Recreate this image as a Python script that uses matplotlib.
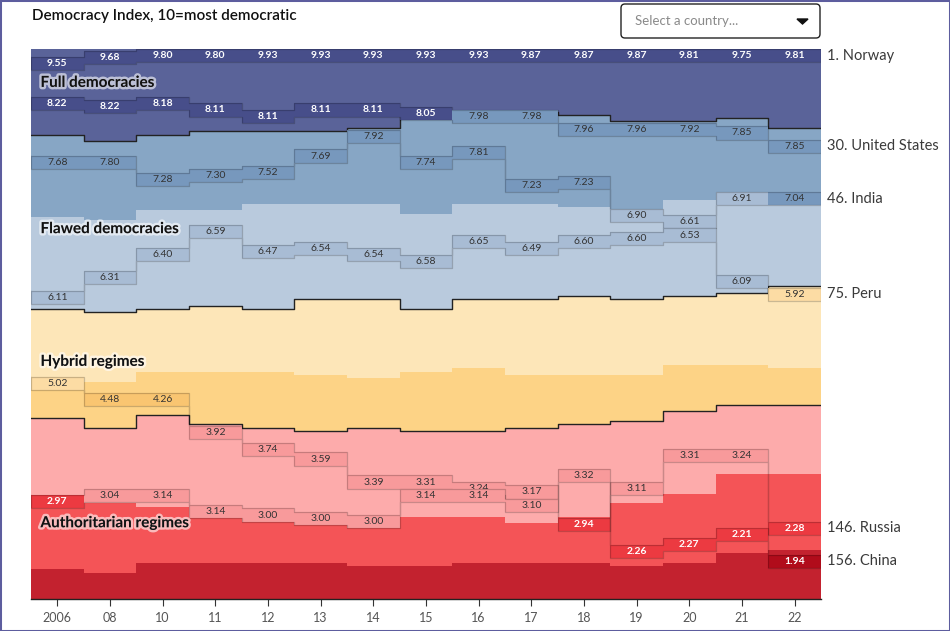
import matplotlib
matplotlib.use("Agg")
import matplotlib.pyplot as plt
import matplotlib.patheffects as pe
import matplotlib.transforms as mtransforms
from matplotlib.patches import FancyBboxPatch, Rectangle, Polygon
import numpy as np

plt.rcParams['font.family'] = ['Lato', 'DejaVu Sans']

# data
years = ['2006', '08', '10', '11', '12', '13', '14', '15', '16', '17', '18', '19', '20', '21', '22']
n_countries = 167

# number of countries scoring at least 8 / 7 / 6 / 5 / 4 / 3 / 2, per year
above_8 = [26, 28, 26, 25, 25, 25, 24, 20, 19, 19, 20, 22, 22, 21, 24]
above_7 = [51, 52, 49, 49, 47, 47, 47, 50, 47, 47, 48, 50, 46, 45, 46]
above_6 = [79, 80, 79, 78, 79, 76, 76, 79, 76, 76, 75, 76, 75, 74, 72]
above_5 = [102, 101, 98, 98, 98, 99, 100, 98, 97, 99, 99, 99, 96, 96, 97]
above_4 = [112, 115, 111, 114, 115, 116, 115, 116, 116, 115, 114, 113, 110, 108, 108]
above_3 = [137, 138, 139, 142, 143, 144, 145, 142, 142, 144, 142, 138, 135, 129, 129]
above_2 = [158, 159, 156, 156, 156, 156, 157, 157, 156, 156, 156, 157, 156, 153, 152]

countries = ['Norway', 'United States', 'India', 'Peru', 'Russia', 'China']
norway_score = [9.55, 9.68, 9.80, 9.80, 9.93, 9.93, 9.93, 9.93, 9.93, 9.87, 9.87, 9.87, 9.81, 9.75, 9.81]
norway_rank = [5, 3, 1, 1, 1, 1, 1, 1, 1, 1, 1, 1, 1, 1, 1]
us_score = [8.22, 8.22, 8.18, 8.11, 8.11, 8.11, 8.11, 8.05, 7.98, 7.98, 7.96, 7.96, 7.92, 7.85, 7.85]
us_rank = [17, 18, 17, 19, 21, 19, 19, 20, 21, 21, 25, 25, 25, 26, 30]
india_score = [7.68, 7.80, 7.28, 7.30, 7.52, 7.69, 7.92, 7.74, 7.81, 7.23, 7.23, 6.90, 6.61, 6.91, 7.04]
india_rank = [35, 35, 40, 39, 38, 33, 27, 35, 32, 42, 41, 51, 53, 46, 46]
peru_score = [6.11, 6.31, 6.40, 6.59, 6.47, 6.54, 6.54, 6.58, 6.65, 6.49, 6.60, 6.60, 6.53, 6.09, 5.92]
peru_rank = [76, 70, 63, 56, 62, 61, 63, 65, 59, 61, 59, 58, 57, 71, 75]
russia_score = [5.02, 4.48, 4.26, 3.92, 3.74, 3.59, 3.39, 3.31, 3.24, 3.17, 2.94, 3.11, 3.31, 3.24, 2.28]
russia_rank = [102, 107, 107, 117, 122, 125, 132, 132, 134, 135, 145, 134, 124, 124, 146]
china_score = [2.97, 3.04, 3.14, 3.14, 3.00, 3.00, 3.00, 3.14, 3.14, 3.10, 3.32, 2.26, 2.27, 2.21, 1.94]
china_rank = [138, 136, 136, 141, 142, 143, 144, 136, 136, 139, 130, 153, 151, 148, 156]

scores = [norway_score, us_score, india_score, peru_score, russia_score, china_score]
ranks = [norway_rank, us_rank, india_rank, peru_rank, russia_rank, china_rank]

# colours, from score 8+ down to below 2
band_cols = ['#5a6399', '#87a6c5', '#b9cadd', '#fde6b8', '#fdd386', '#fdabab', '#f45457', '#c3222f']
box_cols = ['#474e8a', '#7798bd', '#a8bcd4', '#fcdca4', '#f9c571', '#f89a9b', '#ec3a41', '#b10c1b']
cuts = [8, 7, 6, 5, 4, 3, 2]


def bin_of(s):
    for i, c in enumerate(cuts):
        if s >= c:
            return i
    return len(cuts)


# plot
fig = plt.figure(figsize=(9.5, 6.31), dpi=100)
ax = fig.add_axes([31 / 950, 1 - 599 / 631, 790 / 950, 550 / 631])

n = len(years)
xs = np.arange(n)
xe = np.arange(n + 1) - 0.5
ext = lambda a: np.append(a, a[-1])

bounds = [np.zeros(n), above_8, above_7, above_6, above_5, above_4, above_3, above_2,
          np.full(n, n_countries)]
for i in range(len(band_cols)):
    ax.fill_between(xe, ext(np.array(bounds[i], float)), ext(np.array(bounds[i + 1], float)),
                    step='post', color=band_cols[i], lw=0, zorder=1)

for b in [above_8, above_6, above_4]:
    ax.step(xe, ext(np.array(b, float)), where='post', color='#222222', lw=1.0, zorder=3)

# highlighted countries
blend = mtransforms.blended_transform_factory(ax.transAxes, ax.transData)
for k, (name, sc, rk) in enumerate(zip(countries, scores, ranks)):
    rk = np.array(rk, float)
    tops = np.maximum(rk - 2.5, 0)
    bots = tops + 4
    cols = [box_cols[bin_of(s)] for s in sc]
    z = 10 + 3 * k
    ax.bar(xs, bots - tops, bottom=tops, width=1.0, color=cols, lw=0,
           antialiased=False, zorder=z)
    px, py = [], []
    for j in range(n):
        px += [xe[j], xe[j + 1]]
        py += [tops[j], tops[j]]
    for j in range(n - 1, -1, -1):
        px += [xe[j + 1], xe[j]]
        py += [bots[j], bots[j]]
    px.append(px[0])
    py.append(py[0])
    ax.plot(px, py, color='black', alpha=0.2, lw=0.9, zorder=z + 1)
    for j, s in enumerate(sc):
        light = s >= 8 or s < 3
        ax.text(xs[j], (tops[j] + bots[j]) / 2, '%.2f' % s, ha='center', va='center',
                fontsize=7.5, color='white' if light else '#333333',
                weight='bold' if light else 'normal', zorder=z + 2)
    ax.text(1.007, (tops[-1] + bots[-1]) / 2, '%d. %s' % (rk[-1], name), transform=blend,
            ha='left', va='center', fontsize=10.5, color='#3a3a3a', clip_on=False)

halo = [pe.withStroke(linewidth=3.5, foreground=(1, 1, 1, 0.6))]
for label, yy in [('Full democracies', 10.3), ('Flawed democracies', 54.7),
                  ('Hybrid regimes', 95.0), ('Authoritarian regimes', 144.0)]:
    ax.text(-0.32, yy, label, ha='left', va='center', fontsize=11, weight='bold',
            color='#111111', path_effects=halo, zorder=40)

ax.set_xlim(-0.5, n - 0.5)
ax.set_ylim(n_countries, 0)
ax.set_xticks(xs)
ax.set_xticklabels(years, fontsize=9, color='#555555')
ax.set_yticks([])
ax.tick_params(axis='x', length=5, width=0.8, color='#333333', pad=4)
for s in ['top', 'left', 'right']:
    ax.spines[s].set_visible(False)
ax.spines['bottom'].set_color('#222222')
ax.spines['bottom'].set_linewidth(1.0)
ax.spines['bottom'].set_zorder(50)

fig.text(32 / 950, 1 - 16 / 631, 'Democracy Index, 10=most democratic', fontsize=11,
         weight='semibold', color='#111111', va='center', ha='left')

# dropdown box
dax = fig.add_axes([619 / 950, 1 - 40 / 631, 203 / 950, 38 / 631])
dax.set_xlim(-2, 201)
dax.set_ylim(-2, 36)
dax.axis('off')
dax.add_patch(FancyBboxPatch((0, 0), 199, 34, boxstyle='round,pad=0,rounding_size=4',
                             fc='white', ec='#222222', lw=1.0))
dax.text(14, 17, 'Select a country...', fontsize=9.5, color='#8a8a8a', va='center', ha='left')
dax.add_patch(Polygon([[176, 19], [187, 19], [181.5, 14]], closed=True, color='#111111'))

fig.patches.append(Rectangle((0, 0), 1, 1, transform=fig.transFigure, fill=False,
                             edgecolor='#5d5d9e', lw=2.2))

fig.savefig('out.png', dpi=100)
